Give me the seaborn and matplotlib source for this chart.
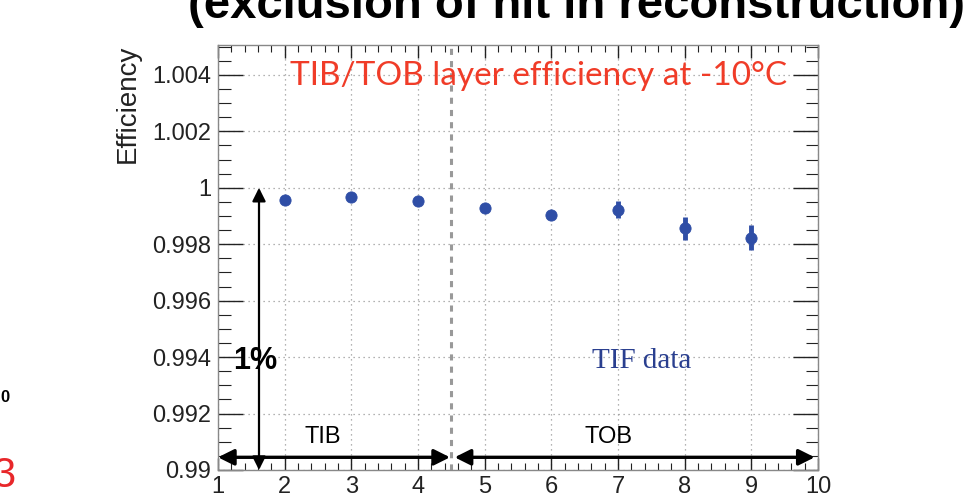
import matplotlib
matplotlib.use("Agg")
import matplotlib.pyplot as plt
from matplotlib.ticker import MultipleLocator, FixedLocator
import seaborn as sns
import pandas as pd

layers = [2, 3, 4, 5, 6, 7, 8, 9]
efficiency = [0.99957, 0.99968, 0.99952, 0.99927, 0.99905, 0.99922, 0.99856, 0.99823]
errors = [0.00012, 0.00012, 0.00012, 0.00008, 0.00012, 0.00030, 0.00040, 0.00045]
x_ticks = [1, 2, 3, 4, 5, 6, 7, 8, 9, 10]
y_ticks = [0.99, 0.992, 0.994, 0.996, 0.998, 1.0, 1.002, 1.004]
y_tick_labels = ["0.99", "0.992", "0.994", "0.996", "0.998", "1", "1.002", "1.004"]

df = pd.DataFrame({"layer": layers, "eff": efficiency, "err": errors})

sns.set_theme(style="white")
plt.rcParams["font.family"] = ["Liberation Sans", "DejaVu Sans"]

fig = plt.figure(figsize=(9.79, 5.03), dpi=100)
ax = fig.add_axes([218/979, 1-470/503, 600/979, 425/503])

blue = "#2f4ea6"
ax.errorbar(df["layer"], df["eff"], yerr=df["err"], fmt="none", ecolor=blue, elinewidth=3.5, capsize=0, zorder=3)
sns.scatterplot(data=df, x="layer", y="eff", ax=ax, color=blue, s=65, edgecolor=blue, zorder=4, legend=False)

ax.set_xlim(1, 10)
ax.set_ylim(0.99, 1.00506)
ax.xaxis.set_major_locator(FixedLocator(x_ticks))
ax.xaxis.set_minor_locator(MultipleLocator(0.2))
ax.yaxis.set_major_locator(FixedLocator(y_ticks))
ax.set_yticklabels(y_tick_labels)
ax.yaxis.set_minor_locator(MultipleLocator(0.0005))
ax.set_xticklabels([str(t) for t in x_ticks])
ax.tick_params(which="both", direction="in", top=True, right=True, bottom=True, left=True, colors="#222222")
ax.tick_params(which="major", length=9, width=1.0, labelsize=17, pad=5)
ax.tick_params(which="minor", length=5, width=0.8)
ax.tick_params(axis="y", which="major", length=18, pad=5)
ax.tick_params(axis="y", which="minor", length=9)
ax.tick_params(axis="x", which="major", pad=4)
ax.grid(True, which="major", color="#999999", linestyle=(0, (1, 3)), linewidth=0.9)
for s in ax.spines.values():
    s.set_color("#888888")
    s.set_linewidth(1.0)

ax.set_xlabel("")
ax.set_ylabel("Efficiency", fontsize=20, color="#222222")
ax.yaxis.set_label_coords(-0.128, 1.0)
ax.yaxis.label.set_horizontalalignment("right")

ax.axvline(4.5, color="#999999", linestyle=(0, (2, 2)), linewidth=2.2, zorder=1)

ax.text(2.08, 1.00395, "TIB/TOB layer efficiency at -10°C", color="#f03c28", fontsize=24,
        family=["Lato", "DejaVu Sans"], ha="left", va="center")
ax.text(7.36, 0.99387, "TIF data", color="#2a3f8f", fontsize=21, family=["Liberation Serif", "DejaVu Serif"], ha="center", va="center")
ax.text(1.22, 0.99387, "1%", color="black", fontsize=22, fontweight="bold", ha="left", va="center")
ax.text(2.3, 0.99117, "TIB", color="black", fontsize=17, ha="left", va="center")
ax.text(6.5, 0.99117, "TOB", color="black", fontsize=17, ha="left", va="center")

arrow_kw = dict(arrowstyle="<|-|>", color="black", lw=2.4, mutation_scale=24, shrinkA=0, shrinkB=0)
ax.annotate("", xy=(4.48, 0.99045), xytext=(1.0, 0.99045), arrowprops=arrow_kw)
ax.annotate("", xy=(9.95, 0.99045), xytext=(4.55, 0.99045), arrowprops=arrow_kw)
ax.annotate("", xy=(1.615, 1.0), xytext=(1.615, 0.99), arrowprops=dict(arrowstyle="<|-|>", color="black", lw=1.6, mutation_scale=20, shrinkA=0, shrinkB=0))

fig.text(577/979, 1-18/503, "(exclusion of hit in reconstruction)", fontsize=34, fontweight="bold", ha="center", va="baseline", color="black")
fig.text(0/979, 1-398/503, "0", fontsize=12, fontweight="bold", ha="left", va="center", color="black")
fig.text(-8/979, 1-476/503, "3", fontsize=30, ha="left", va="center", color="#e8272a")

fig.savefig("out.png", dpi=100)
